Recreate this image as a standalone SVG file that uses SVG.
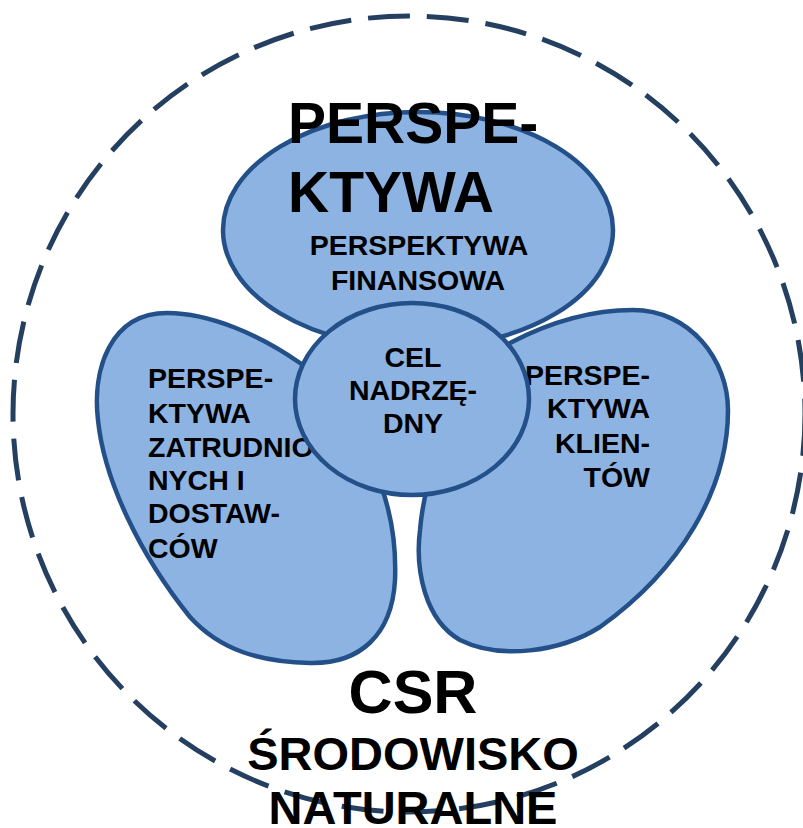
<svg xmlns="http://www.w3.org/2000/svg" width="803" height="828" viewBox="0 0 803 828">
<style>
.lobe{fill:#8DB3E2;stroke:#24508A;stroke-width:4.5}
.ring{fill:none;stroke:#243F60;stroke-width:5;stroke-dasharray:42 17}
text{font-family:"Liberation Sans",Arial,sans-serif;font-weight:bold;fill:#000}
.s{font-size:28.5px}
.c{text-anchor:middle}
.e{text-anchor:end}
</style>
<rect width="803" height="828" fill="#fff"/>
<g id="csr-ring">
<ellipse class="ring" cx="409" cy="414" rx="396" ry="398"/>
</g>
<g id="finansowa">
<ellipse class="lobe" cx="418" cy="230" rx="195" ry="118"/>
<text class="s c" x="419" y="255">PERSPEKTYWA</text>
<text class="s c" x="418" y="290">FINANSOWA</text>
</g>
<g id="zatrudnionych">
<path class="lobe" d="M167,313 C110,313 92,370 98,420 C104,480 140,555 190,617 C220,650 260,662 310,663 C360,664 392,635 395,580 C397,530 385,490 370,460 C355,420 330,385 300,363 C260,335 210,313 167,313 Z"/>
<text class="s" x="148" y="388">PERSPE-</text>
<text class="s" x="148" y="423">KTYWA</text>
<text class="s" x="148" y="457">ZATRUDNIO</text>
<text class="s" x="148" y="490">NYCH I</text>
<text class="s" x="148" y="523">DOSTAW-</text>
<text class="s" x="148" y="558">CÓW</text>
</g>
<g id="klientow">
<path class="lobe" d="M633,310 C690,310 728,360 728,410 C728,490 680,570 600,627 C560,652 500,660 460,640 C425,620 415,570 420,530 C425,470 460,365 510,343 C550,322 590,310 633,310 Z"/>
<text class="s e" x="650" y="385">PERSPE-</text>
<text class="s e" x="650" y="418">KTYWA</text>
<text class="s e" x="650" y="453">KLIEN-</text>
<text class="s e" x="650" y="487">TÓW</text>
</g>
<g id="cel">
<ellipse class="lobe" cx="412" cy="399" rx="117" ry="96"/>
<text class="s c" x="413" y="367">CEL</text>
<text class="s c" x="413" y="400">NADRZĘ-</text>
<text class="s c" x="413" y="433">DNY</text>
</g>
<g id="titles">
<text x="288" y="143" style="font-size:57px">PERSPE-</text>
<text x="288" y="212" style="font-size:57px">KTYWA</text>
<text class="c" x="413" y="713" style="font-size:61px">CSR</text>
<text class="c" x="413" y="770" style="font-size:47px">ŚRODOWISKO</text>
<text class="c" x="413" y="824" style="font-size:47px">NATURALNE</text>
</g>
</svg>
